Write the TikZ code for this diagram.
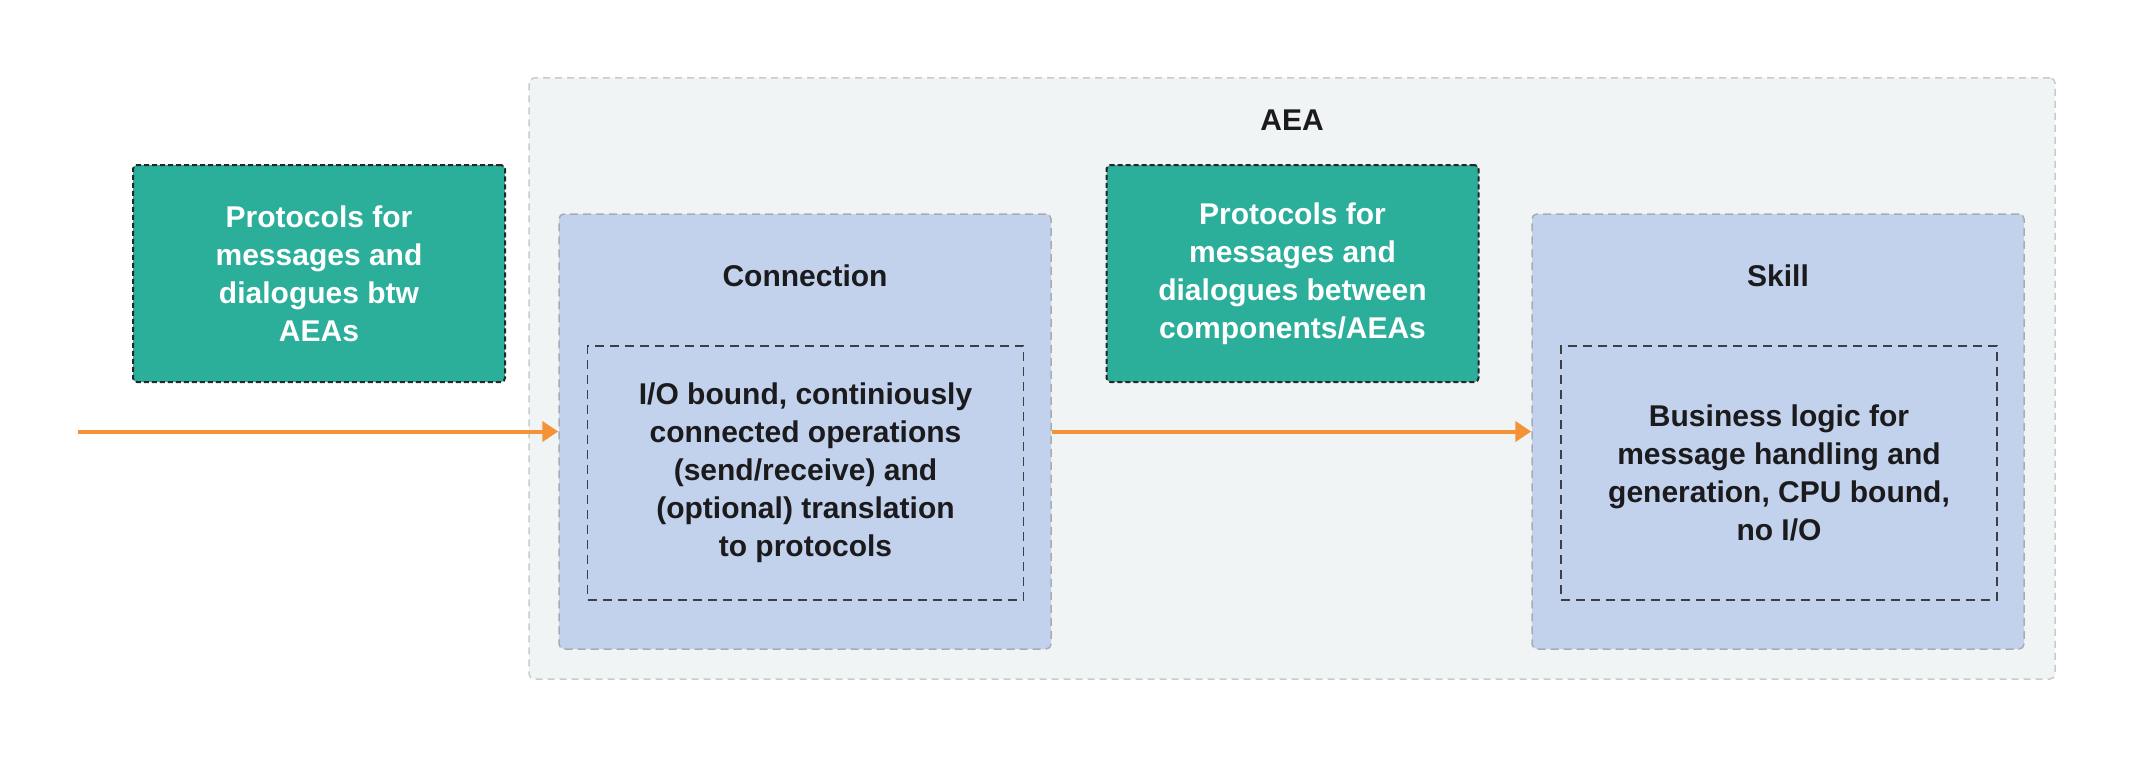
\documentclass[tikz,border=0pt]{standalone}
\usepackage{fontspec}
\setmainfont{Liberation Sans}
\usetikzlibrary{arrows.meta}
\definecolor{aeafill}{HTML}{F0F4F5}
\definecolor{aeaborder}{HTML}{C8CCCE}
\definecolor{greenfill}{HTML}{2BAE9A}
\definecolor{bluefill}{HTML}{C2D2EC}
\definecolor{blueborder}{HTML}{A8ACB2}
\definecolor{innerborder}{HTML}{3C3F44}
\definecolor{arroworange}{HTML}{F39237}
\definecolor{txt}{HTML}{1B1B1D}
\tikzset{
  basefont/.style={font=\fontsize{30}{38}\selectfont\bfseries},
  aeabox/.style={draw=aeaborder, fill=aeafill, line width=1.5pt, dash pattern=on 7pt off 5pt, rounded corners=5pt, minimum width=1526pt, minimum height=601pt, inner sep=0pt},
  greenbox/.style={draw=black!85, fill=greenfill, line width=2pt, dash pattern=on 5pt off 3pt, rounded corners=4pt, minimum width=372pt, minimum height=217pt, align=center, text=white, basefont, inner sep=0pt},
  bluebox/.style={draw=blueborder, fill=bluefill, line width=1.5pt, dash pattern=on 8pt off 5pt, rounded corners=5pt, minimum width=492pt, minimum height=435pt, inner sep=0pt},
  innerbox/.style={draw=innerborder, line width=1.5pt, dash pattern=on 9pt off 6pt, minimum width=436pt, minimum height=254pt, align=center, text=txt, basefont, inner sep=0pt},
  titletext/.style={text=txt, basefont, inner sep=0pt},
  flow/.style={draw=arroworange, line width=4pt, -{Triangle[length=16pt, width=20pt]}}
}
\begin{document}
\begin{tikzpicture}[x=1pt, y=-1pt]
\useasboundingbox[fill=white] (0,0) rectangle (2134,760);
\node[aeabox] (aea) at (1292,378.5) {};
\node[titletext] (aealabel) at (1292,120) {AEA};
\node[greenbox] (protext) at (319,273.5) {Protocols for\\messages and\\dialogues btw\\AEAs};
\node[greenbox] (proint) at (1292.5,273.5) {Protocols for\\messages and\\dialogues between\\components/AEAs};
\node[bluebox] (conn) at (805,431.5) {};
\node[titletext] (connlabel) at (805,276) {Connection};
\node[innerbox] (conninner) at (805.5,473) {I/O bound, continiously\\connected operations\\(send/receive) and\\(optional) translation\\to protocols};
\node[bluebox] (skill) at (1778,431.5) {};
\node[titletext] (skilllabel) at (1778,276) {Skill};
\node[innerbox] (skillinner) at (1779,473) {Business logic for\\message handling and\\generation, CPU bound,\\no I/O};
\coordinate (src) at (78,431.5);
\draw[flow] (src) -- (conn.west);
\draw[flow] (conn.east) -- (skill.west);
\end{tikzpicture}
\end{document}
